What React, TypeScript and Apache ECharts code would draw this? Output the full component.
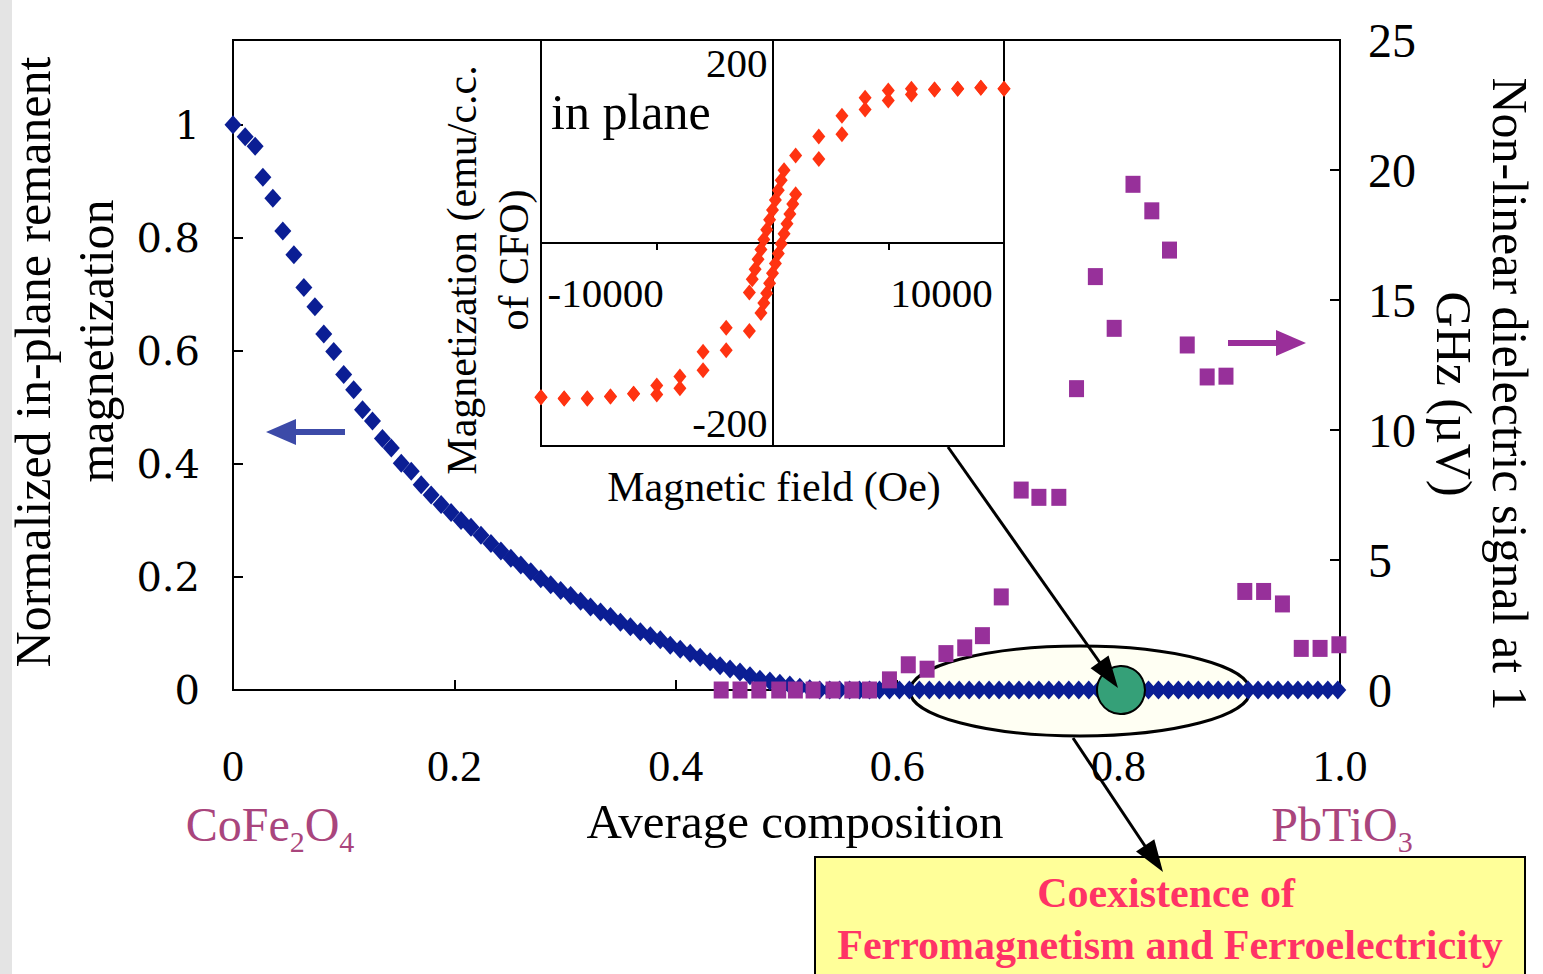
import React, { useEffect, useRef } from "react";
import * as echarts from "echarts";

// ---- Main panel: normalized in-plane remanent magnetization (left axis) ----
const blueComposition = [
  0.0, 0.011, 0.02, 0.027, 0.036, 0.045, 0.055, 0.064, 0.074, 0.082,
  0.091, 0.1, 0.109, 0.117, 0.126, 0.135, 0.143, 0.152, 0.161, 0.17,
  0.179, 0.188, 0.197, 0.206, 0.215, 0.224, 0.233, 0.242, 0.251, 0.26,
  0.269, 0.278, 0.287, 0.296, 0.305, 0.314, 0.323, 0.332, 0.341, 0.35,
  0.359, 0.368, 0.377, 0.386, 0.395, 0.404, 0.413, 0.422, 0.431, 0.44,
  0.449, 0.458, 0.467, 0.476, 0.485, 0.494, 0.503, 0.512, 0.521, 0.53,
  0.539, 0.548, 0.557, 0.566, 0.575, 0.584, 0.593, 0.602, 0.611, 0.62,
  0.629, 0.638, 0.647, 0.656, 0.665, 0.674, 0.683, 0.692, 0.701, 0.71,
  0.719, 0.728, 0.737, 0.746, 0.755, 0.764, 0.773, 0.782, 0.791, 0.8,
  0.809, 0.818, 0.827, 0.836, 0.845, 0.854, 0.863, 0.872, 0.881, 0.89,
  0.899, 0.908, 0.917, 0.926, 0.935, 0.944, 0.953, 0.962, 0.971, 0.98,
  0.989, 0.998,
];
const blueMagnetization = [
  1.0, 0.979, 0.962, 0.907, 0.87, 0.812, 0.77, 0.712, 0.678, 0.63,
  0.599, 0.558, 0.531, 0.496, 0.476, 0.445, 0.428, 0.401, 0.387, 0.363,
  0.345, 0.328, 0.314, 0.3, 0.288, 0.274, 0.259, 0.246, 0.233, 0.221,
  0.209, 0.197, 0.186, 0.176, 0.167, 0.157, 0.147, 0.138, 0.13, 0.12,
  0.112, 0.103, 0.096, 0.089, 0.079, 0.072, 0.065, 0.058, 0.05, 0.043,
  0.037, 0.032, 0.025, 0.019, 0.016, 0.012, 0.009, 0.005, 0.002, 0,
  0, 0, 0, 0, 0, 0, 0, 0, 0, 0,
  0, 0, 0, 0, 0, 0, 0, 0, 0, 0,
  0, 0, 0, 0, 0, 0, 0, 0, 0, 0,
  0, 0, 0, 0, 0, 0, 0, 0, 0, 0,
  0, 0, 0, 0, 0, 0, 0, 0, 0, 0,
  0, 0,
];

// ---- Main panel: non-linear dielectric signal (right axis) ----
const purpleComposition = [
  0.441, 0.458, 0.475, 0.493, 0.508, 0.524, 0.542, 0.559, 0.575, 0.593,
  0.61, 0.627, 0.644, 0.661, 0.677, 0.694, 0.712, 0.728, 0.746, 0.762,
  0.779, 0.796, 0.813, 0.83, 0.846, 0.862, 0.88, 0.897, 0.914, 0.931,
  0.948, 0.965, 0.982, 0.999,
];
const purpleSignal = [
  0, 0, 0, 0, 0, 0, 0, 0, 0, 0.39,
  0.97, 0.8, 1.4, 1.62, 2.09, 3.58, 7.69, 7.41, 7.41, 11.59,
  15.9, 13.91, 19.45, 18.43, 16.92, 13.27, 12.04, 12.07, 3.79, 3.79,
  3.31, 1.6, 1.6, 1.74,
];

// ---- Inset: hysteresis loop ----
const descField = [
  20000, 18000, 16000, 14000, 12000, 10000, 8000, 6000, 4000, 2000,
  1000, 750, 500, 250, 0, -250, -500, -750, -1000, -1250, -1500, -1750, -2000,
  -4000, -6000, -8000, -10000, -12000, -14000, -16000, -18000, -20000,
];
const descMagnetization = [
  171, 172, 171, 170, 171, 169, 161, 141, 118, 97,
  80.5, 69.5, 58.6, 47.6, 36.6, 25.7, 14.7, 3.8, -7.2, -18.1, -29.1, -40.1, -55,
  -94, -120.5, -148, -158, -167, -170, -172, -172, -171,
];
const ascField = [
  -20000, -18000, -16000, -14000, -12000, -10000, -8000, -6000, -4000, -2000,
  -1000, -750, -500, -250, 0, 250, 500, 750, 1000, 1250, 1500, 1750, 2000,
  4000, 6000, 8000, 10000, 12000, 14000, 16000, 18000, 20000,
];
const ascMagnetization = [
  -171, -172.5, -172.5, -170, -167, -168, -161, -141, -119, -97.5,
  -77.5, -66.5, -55.6, -44.6, -33.6, -22.7, -11.7, -0.8, 10.2, 21.2, 32.1, 43.1, 54.1,
  93, 120.5, 148, 158, 164.5, 170, 171, 172, 171,
];

// ---- Tick labels ----
const xTickLabels = ["0", "0.2", "0.4", "0.6", "0.8", "1.0"];
const leftTickLabels = ["0", "0.2", "0.4", "0.6", "0.8", "1"];
const rightTickLabels = ["0", "5", "10", "15", "20", "25"];
const insetFieldTicks = [-10000, 10000];
const insetFieldTickLabels = ["-10000", "10000"];
const insetMagTicks = [200, -200];
const insetMagTickLabels = ["200", "-200"];

const SERIF = "'Liberation Serif', 'Times New Roman', serif";
const BLUE = "#0b1e94";
const PURPLE = "#97309a";
const RED = "#ff3311";
const MAUVE = "#a9457d";

function pick(labels: string[], v: number, step: number) {
  const i = Math.round(v / step);
  if (Math.abs(v - i * step) > 1e-6 || i < 0 || i >= labels.length) return "";
  return labels[i];
}

function textEl(text: string, x: number, y: number, font: string, opts: any = {}) {
  const align = opts.align || "center";
  const valign = opts.valign || "middle";
  return {
    type: "text",
    x,
    y,
    rotation: opts.rotation || 0,
    z: 20,
    style: {
      text,
      font,
      fill: opts.fill || "#000",
      align,
      verticalAlign: valign,
      textAlign: align,
      textVerticalAlign: valign,
    },
  };
}

export default function App() {
  const ref = useRef<HTMLDivElement>(null);

  useEffect(() => {
    if (!ref.current) return;
    const chart = echarts.init(ref.current, null, { renderer: "svg" });

    const axisLineStyle = { color: "#000", width: 2 };

    chart.setOption({
      animation: false,
      backgroundColor: "#fff",
      grid: [
        { left: 233, top: 40, width: 1107, height: 650, show: true, borderColor: "#000", borderWidth: 2, backgroundColor: "transparent" },
        { left: 541, top: 40, width: 463, height: 406, show: true, borderColor: "#000", borderWidth: 2, backgroundColor: "#fff" },
      ],
      xAxis: [
        {
          gridIndex: 0,
          type: "value",
          min: 0,
          max: 1,
          interval: 0.2,
          axisLine: { show: true, onZero: false, lineStyle: axisLineStyle },
          axisTick: { show: true, inside: true, length: 10, lineStyle: axisLineStyle },
          axisLabel: {
            margin: 54,
            fontFamily: SERIF,
            fontSize: 44,
            color: "#000",
            formatter: (v: number) => pick(xTickLabels, v, 0.2),
          },
          splitLine: { show: false },
        },
        {
          gridIndex: 1,
          type: "value",
          min: -20000,
          max: 20000,
          interval: 10000,
          axisLine: { show: true, onZero: true, lineStyle: axisLineStyle },
          axisTick: { show: true, inside: false, length: 7, lineStyle: axisLineStyle },
          axisLabel: { show: false },
          splitLine: { show: false },
        },
      ],
      yAxis: [
        {
          gridIndex: 0,
          type: "value",
          position: "left",
          min: 0,
          max: 1.15,
          interval: 0.2,
          axisLine: { show: true, onZero: false, lineStyle: axisLineStyle },
          axisTick: { show: true, inside: true, length: 10, lineStyle: axisLineStyle },
          axisLabel: {
            margin: 33,
            fontFamily: "'DejaVu Serif', serif",
            fontSize: 40,
            color: "#000",
            showMaxLabel: false,
            formatter: (v: number) => pick(leftTickLabels, v, 0.2),
          },
          splitLine: { show: false },
        },
        {
          gridIndex: 0,
          type: "value",
          position: "right",
          min: 0,
          max: 25,
          interval: 5,
          axisLine: { show: true, onZero: false, lineStyle: axisLineStyle },
          axisTick: { show: true, inside: true, length: 10, lineStyle: axisLineStyle },
          axisLabel: {
            margin: 28,
            fontFamily: SERIF,
            fontSize: 48,
            color: "#000",
            formatter: (v: number) => pick(rightTickLabels, v, 5),
          },
          splitLine: { show: false },
        },
        {
          gridIndex: 1,
          type: "value",
          min: -225,
          max: 225,
          interval: 25,
          axisLine: { show: true, onZero: true, lineStyle: axisLineStyle },
          axisTick: { show: false },
          axisLabel: { show: false },
          splitLine: { show: false },
        },
      ],
      series: [
        {
          name: "Remanent magnetization",
          type: "scatter",
          xAxisIndex: 0,
          yAxisIndex: 0,
          symbol: "diamond",
          symbolSize: [17, 19],
          clip: false,
          itemStyle: { color: BLUE, opacity: 1 },
          data: blueComposition.map((c, i) => [c, blueMagnetization[i]]),
          z: 3,
        },
        {
          name: "Non-linear dielectric signal",
          type: "scatter",
          xAxisIndex: 0,
          yAxisIndex: 1,
          symbol: "rect",
          symbolSize: [15, 17],
          clip: false,
          itemStyle: { color: PURPLE, opacity: 1 },
          data: purpleComposition.map((c, i) => [c, purpleSignal[i]]),
          z: 4,
        },
        {
          name: "Hysteresis (descending)",
          type: "scatter",
          xAxisIndex: 1,
          yAxisIndex: 2,
          symbol: "diamond",
          symbolSize: [13, 16],
          clip: false,
          itemStyle: { color: RED, opacity: 1 },
          data: descField.map((h, i) => [h, descMagnetization[i]]),
          z: 5,
        },
        {
          name: "Hysteresis (ascending)",
          type: "scatter",
          xAxisIndex: 1,
          yAxisIndex: 2,
          symbol: "diamond",
          symbolSize: [13, 16],
          clip: false,
          itemStyle: { color: RED, opacity: 1 },
          data: ascField.map((h, i) => [h, ascMagnetization[i]]),
          z: 5,
        },
      ],
    });

    // Inset tick labels placed through the inset axes' scales
    const toPx = (v: number[]) => chart.convertToPixel({ gridIndex: 1 } as any, v) as number[];
    const origin = toPx([0, 0]);
    const insetXLabelEls = insetFieldTicks.map((t, i) => {
      const px = toPx([t, 0])[0];
      const neg = t < 0;
      return textEl(insetFieldTickLabels[i], neg ? px + 7 : px + 2, origin[1] + 50, `41px ${SERIF}`, {
        align: neg ? "right" : "left",
      });
    });
    const insetYLabelEls = insetMagTicks.map((t, i) => {
      const py = toPx([0, t])[1];
      return textEl(insetMagTickLabels[i], origin[0] - 5, py, `41px ${SERIF}`, { align: "right" });
    });

    const arrow1 = { from: [948, 447], to: [1118, 688] };
    const arrow2 = { from: [1073, 738], to: [1163, 872] };
    const head = (a: { from: number[]; to: number[] }, len: number, hw: number) => {
      const dx = a.to[0] - a.from[0];
      const dy = a.to[1] - a.from[1];
      const l = Math.hypot(dx, dy);
      const ux = dx / l;
      const uy = dy / l;
      const bx = a.to[0] - ux * len;
      const by = a.to[1] - uy * len;
      return [
        [a.to[0], a.to[1]],
        [bx - uy * hw, by + ux * hw],
        [bx + uy * hw, by - ux * hw],
      ];
    };

    chart.setOption({
      graphic: {
        elements: [
          { type: "rect", z: 0, shape: { x: 0, y: 0, width: 12, height: 974 }, style: { fill: "#e4e4e4" } },
          {
            type: "ellipse",
            z: 1,
            shape: { cx: 1080, cy: 691, rx: 170, ry: 45 },
            style: { fill: "#fffff3", stroke: "#000", lineWidth: 3 },
          },
          {
            type: "circle",
            z: 10,
            shape: { cx: 1121, cy: 690, r: 24 },
            style: { fill: "#35a078", stroke: "#000", lineWidth: 2 },
          },
          {
            type: "line",
            z: 11,
            shape: { x1: arrow1.from[0], y1: arrow1.from[1], x2: arrow1.to[0] - 8, y2: arrow1.to[1] - 11 },
            style: { stroke: "#000", lineWidth: 3 },
          },
          { type: "polygon", z: 11, shape: { points: head(arrow1, 32, 11) }, style: { fill: "#000" } },
          {
            type: "line",
            z: 11,
            shape: { x1: arrow2.from[0], y1: arrow2.from[1], x2: arrow2.to[0] - 8, y2: arrow2.to[1] - 11 },
            style: { stroke: "#000", lineWidth: 3 },
          },
          {
            type: "rect",
            z: 9,
            shape: { x: 815, y: 857, width: 710, height: 130 },
            style: { fill: "#ffff99", stroke: "#000", lineWidth: 2 },
          },
          { type: "polygon", z: 11, shape: { points: head(arrow2, 32, 11) }, style: { fill: "#000" } },
          // direction arrows
          { type: "line", z: 11, shape: { x1: 345, y1: 432, x2: 292, y2: 432 }, style: { stroke: "#3c4aa8", lineWidth: 6 } },
          { type: "polygon", z: 11, shape: { points: [[266, 432], [296, 419], [296, 445]] }, style: { fill: "#3c4aa8" } },
          { type: "line", z: 11, shape: { x1: 1228, y1: 343, x2: 1280, y2: 343 }, style: { stroke: "#9a2f9a", lineWidth: 6 } },
          { type: "polygon", z: 11, shape: { points: [[1306, 343], [1276, 330], [1276, 356]] }, style: { fill: "#9a2f9a" } },
          // axis titles
          textEl("Normalized in-plane remanent", 33, 362, `50px ${SERIF}`, { rotation: Math.PI / 2 }),
          textEl("magnetization", 96, 341, `50px ${SERIF}`, { rotation: Math.PI / 2 }),
          textEl("Non-linear dielectric signal at 1", 1510, 394, `50px ${SERIF}`, { rotation: -Math.PI / 2 }),
          textEl("GHz (\u00b5V)", 1454, 394, `50px ${SERIF}`, { rotation: -Math.PI / 2 }),
          textEl("Average composition", 795, 821, `49px ${SERIF}`),
          {
            type: "text",
            x: 270,
            y: 824,
            z: 20,
            style: {
              text: "{n|CoFe}{s|2}{n|O}{s|4}",
              align: "center",
              verticalAlign: "middle",
              textAlign: "center",
              textVerticalAlign: "middle",
              rich: {
                n: { fontSize: 48, fontFamily: SERIF, fill: MAUVE, color: MAUVE, lineHeight: 64, verticalAlign: "middle" },
                s: { fontSize: 30, fontFamily: SERIF, fill: MAUVE, color: MAUVE, lineHeight: 64, verticalAlign: "bottom" },
              },
            },
          },
          {
            type: "text",
            x: 1342,
            y: 824,
            z: 20,
            style: {
              text: "{n|PbTiO}{s|3}",
              align: "center",
              verticalAlign: "middle",
              textAlign: "center",
              textVerticalAlign: "middle",
              rich: {
                n: { fontSize: 48, fontFamily: SERIF, fill: MAUVE, color: MAUVE, lineHeight: 64, verticalAlign: "middle" },
                s: { fontSize: 30, fontFamily: SERIF, fill: MAUVE, color: MAUVE, lineHeight: 64, verticalAlign: "bottom" },
              },
            },
          },
          // inset texts
          textEl("in plane", 551, 112, `50px ${SERIF}`, { align: "left" }),
          textEl("Magnetization (emu/c.c.", 462, 270, `42px ${SERIF}`, { rotation: Math.PI / 2 }),
          textEl("of CFO)", 514, 260, `42px ${SERIF}`, { rotation: Math.PI / 2 }),
          textEl("Magnetic field (Oe)", 774, 487, `42px ${SERIF}`),
          ...insetXLabelEls,
          ...insetYLabelEls,
          // box text
          textEl("Coexistence of", 1166, 893, `bold 42px ${SERIF}`, { fill: "#ff3366" }),
          textEl("Ferromagnetism and Ferroelectricity", 1170, 945, `bold 42px ${SERIF}`, { fill: "#ff3366" }),
        ],
      },
    });

    return () => chart.dispose();
  }, []);

  return (
    <div
      ref={ref}
      style={{ position: "absolute", left: 0, top: 0, width: 1543, height: 974, background: "#fff" }}
    />
  );
}
